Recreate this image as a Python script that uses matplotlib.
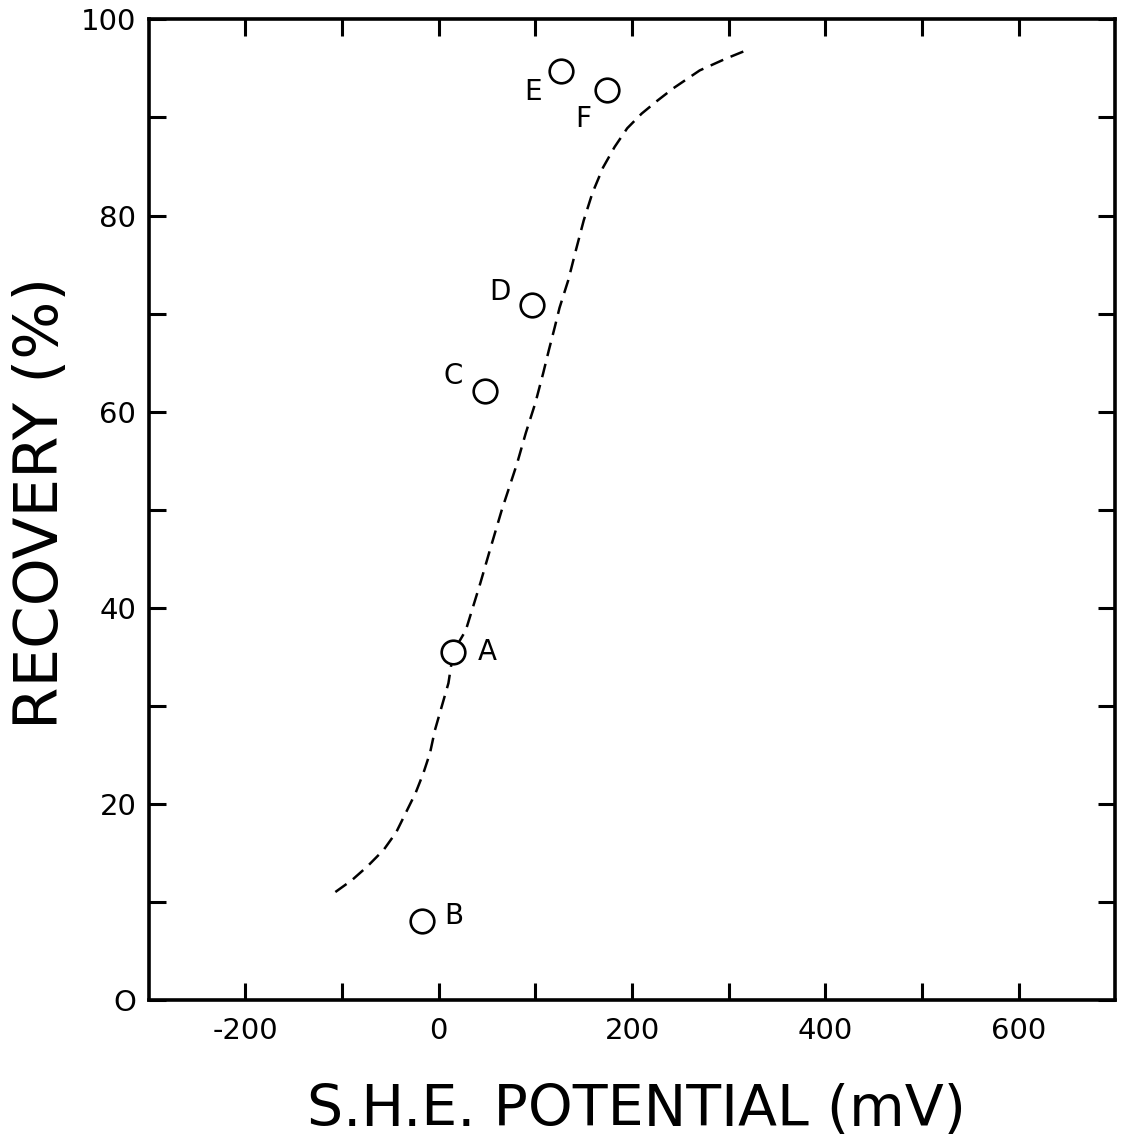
import matplotlib.pyplot as plt

# measured recoveries
labels = ["A", "B", "C", "D", "E", "F"]
potential = [15, -17, 48, 96, 127, 174]
recovery = [35.5, 8.0, 62.1, 70.9, 94.7, 92.8]
label_offsets = [(18, 0), (16, 4), (-16, 11), (-15, 9), (-14, -15), (-11, -21)]

# fitted curve
curve_x = [-107, -90, -74, -57, -44, -34, -24, -16, -9, -4, 3, 10, 15, 28, 43,
           53, 65, 73, 81, 90, 100, 108, 114, 120, 125, 134, 142, 150, 159, 170,
           182, 195, 210, 226, 243, 270, 297, 317]
curve_y = [11.0, 12.2, 13.6, 15.3, 17.1, 19.1, 21.1, 23.1, 25.2, 27.5, 29.9, 32.3,
           35.5, 37.7, 42.5, 45.9, 49.9, 52.3, 54.7, 57.8, 60.9, 63.9, 66.3, 68.6,
           70.6, 73.4, 76.5, 79.5, 82.3, 84.9, 87.0, 88.9, 90.4, 91.7, 93.0, 94.8,
           96.0, 96.8]

x_ticks = list(range(-200, 700, 100))
x_labels = ["-200", "", "0", "", "200", "", "400", "", "600"]
y_ticks = list(range(0, 110, 10))
y_labels = ["O", "", "20", "", "40", "", "60", "", "80", "", "100"]

plt.rcParams["font.family"] = ["DejaVu Sans"]

fig = plt.figure(figsize=(11.45, 11.44), dpi=100)
ax = fig.add_axes([0.130, 0.126, 0.844, 0.857])

ax.plot(curve_x, curve_y, color="black", lw=1.8, dashes=(5.5, 3.2))
ax.plot(potential, recovery, linestyle="none", marker="o", markersize=17,
        markerfacecolor="white", markeredgecolor="black", markeredgewidth=1.9, zorder=3)

for lab, x, y, (dx, dy) in zip(labels, potential, recovery, label_offsets):
    ax.annotate(lab, (x, y), xytext=(dx, dy), textcoords="offset points",
                fontsize=20, ha="left" if dx > 0 else "right", va="center")

ax.set_xlim(-300, 700)
ax.set_ylim(0, 100)
ax.set_xticks(x_ticks)
ax.set_xticklabels(x_labels)
ax.set_yticks(y_ticks)
ax.set_yticklabels(y_labels)

ax.tick_params(direction="in", length=12, width=2.2, labelsize=21, pad=12,
               top=True, right=True)
ax.tick_params(axis="y", pad=9)
for side in ax.spines.values():
    side.set_linewidth(2.6)

ax.set_xlabel("S.H.E. POTENTIAL (mV)", fontsize=41)
ax.xaxis.set_label_coords(0.505, -0.1285)
ax.xaxis.label.set_verticalalignment("baseline")
ax.set_ylabel("RECOVERY (%)", fontsize=44)
ax.yaxis.set_label_coords(-0.081, 0.507)

fig.savefig("out.png", dpi=100, facecolor="white")
